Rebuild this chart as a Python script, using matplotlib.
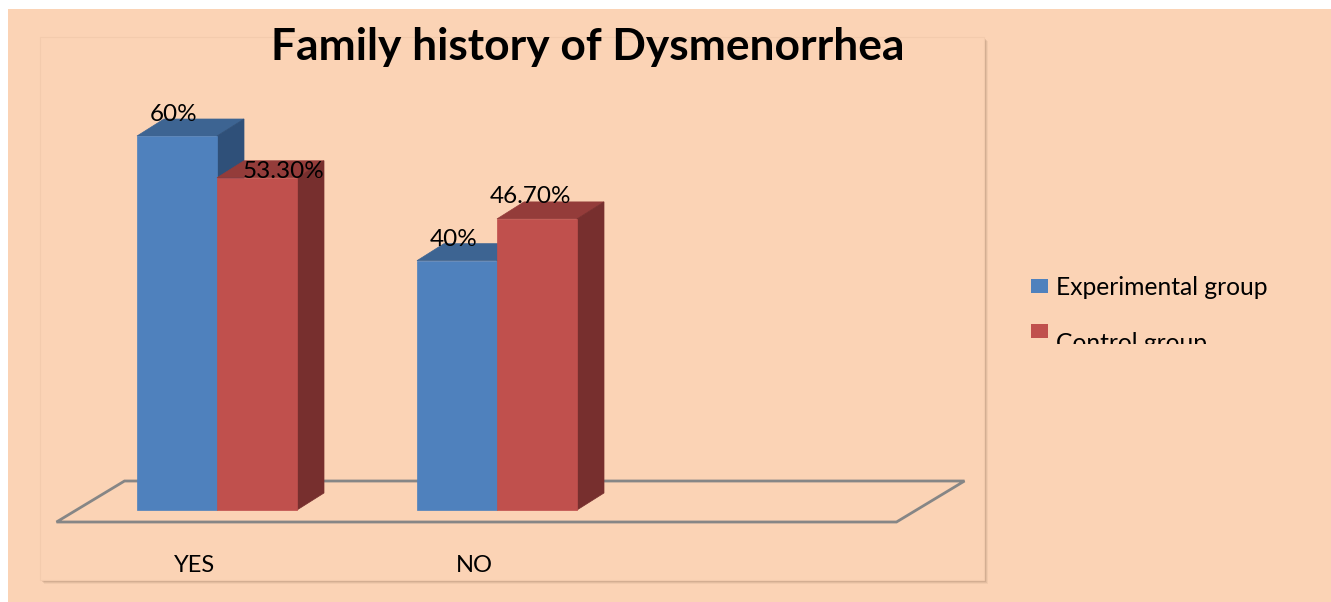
import matplotlib
matplotlib.use('Agg')
import matplotlib.pyplot as plt
from matplotlib.patches import Rectangle, Polygon
from matplotlib.transforms import Bbox

# ---------------- data ----------------
categories = ['YES', 'NO']
experimental = [60.0, 40.0]
control = [53.3, 46.7]
experimental_labels = ['60%', '40%']
control_labels = ['53.30%', '46.70%']
series_names = ['Experimental group', 'Control group']
title_text = 'Family history of Dysmenorrhea'
n_slots = 3          # category slots on the floor (third one empty)

# ---------------- style ----------------
W, H = 1331, 602
BG = '#FBD3B5'
FONT = ['Lato', 'DejaVu Sans']
plt.rcParams['font.family'] = FONT

blue = dict(front='#4F81BD', top='#3D6492', side='#2F5079')
red = dict(front='#C0504D', top='#943C3A', side='#772F2E')


def fx(x):
    return x / W


def fy(y):
    return 1 - y / H


fig = plt.figure(figsize=(W / 100, H / 100), dpi=100)
fig.patch.set_facecolor('white')

# outer peach area
fig.add_artist(Rectangle((fx(8), -0.01), 1.01 - fx(8), fy(9) + 0.01, transform=fig.transFigure,
                         facecolor=BG, edgecolor='none', zorder=0))
# inner panel with shadow
px0, py0, px1, py1 = 40, 37, 984, 580
for i, a in enumerate([0.06, 0.09, 0.12, 0.16]):
    off = 4 - i
    fig.add_artist(Rectangle((fx(px0 + off), fy(py1 + off)), fx(px1 - px0), (py1 - py0) / H,
                             transform=fig.transFigure, facecolor='#5a3e28', alpha=a,
                             edgecolor='none', zorder=0.5))
fig.add_artist(Rectangle((fx(px0), fy(py1)), fx(px1 - px0), (py1 - py0) / H,
                         transform=fig.transFigure, facecolor=BG,
                         edgecolor='#f3cbad', linewidth=0.8, zorder=0.6))

# main axes: bar front plane
px_per_pct = 374 / 60.0
ymax = 70
ax = fig.add_axes([fx(77), fy(510), fx(840), ymax * px_per_pct / H])
ax.set_zorder(2)
ax.set_xlim(0, n_slots)
ax.set_ylim(0, ymax)
ax.axis('off')
ax.patch.set_alpha(0)

px_per_x = 840 / n_slots
# depth offsets (pixels -> data)
bdx, bdy = 27 / px_per_x, 17 / px_per_pct
ffx, ffy = -20.5 / px_per_x, -12 / px_per_pct
fbx, fby = 47.5 / px_per_x, 29 / px_per_pct

# floor
ax.add_patch(Polygon([(ffx, ffy), (n_slots + ffx, ffy), (n_slots + fbx, fby), (fbx, fby)],
                     closed=True, facecolor='none', edgecolor='#868686', linewidth=2,
                     clip_on=False, zorder=1))

bar_w = 1 / 3.5
gap = 1 - 2 * bar_w


def bar3d(x0, h, c):
    ax.add_patch(Polygon([(x0, h), (x0 + bdx, h + bdy), (x0 + bar_w + bdx, h + bdy), (x0 + bar_w, h)],
                         closed=True, facecolor=c['top'], edgecolor=c['top'], linewidth=0.5,
                         clip_on=False, zorder=2))
    ax.add_patch(Polygon([(x0 + bar_w, 0), (x0 + bar_w + bdx, bdy), (x0 + bar_w + bdx, h + bdy), (x0 + bar_w, h)],
                         closed=True, facecolor=c['side'], edgecolor=c['side'], linewidth=0.5,
                         clip_on=False, zorder=2))
    ax.bar(x0, h, width=bar_w, align='edge', color=c['front'], edgecolor=c['front'],
           linewidth=0.5, clip_on=False, zorder=2)


for i, cat in enumerate(categories):
    xb = i + gap / 2
    xr = xb + bar_w
    bar3d(xb, experimental[i], blue)
    bar3d(xr, control[i], red)
    # value labels
    ax.annotate(experimental_labels[i], xy=(xb + bar_w / 2, experimental[i]),
                xytext=(-3, 15), textcoords='offset pixels', ha='center', va='baseline',
                fontsize=17.5, color='black', annotation_clip=False, zorder=5)
    if experimental[i] > control[i]:
        off = (27, 0)
    else:
        off = (-7, 16)
    ax.annotate(control_labels[i], xy=(xr + bar_w / 2, control[i]),
                xytext=off, textcoords='offset pixels', ha='center', va='baseline',
                fontsize=17.5, color='black', annotation_clip=False, zorder=5)
    # category label (centred on the floor front edge)
    ax.annotate(cat, xy=(i + 0.5 + ffx, 0), xytext=(-2, -62), textcoords='offset pixels',
                ha='center', va='baseline', fontsize=17, color='black', annotation_clip=False)

# title
t = fig.text(fx(587.5), fy(60), title_text, ha='center', va='baseline',
             fontsize=36, fontweight='bold', color='black', zorder=3)
fig.canvas.draw()
r = fig.canvas.get_renderer()
wpx = t.get_window_extent(r).width
t.set_fontsize(36 * 631 / wpx)

# legend (cut off at the bottom, as in the reference)
clip = Bbox.from_extents(0, H - 344, W, H)
text_drop = [9, 20]
for j, (name, c) in enumerate(zip(series_names, [blue, red])):
    yc = 286 + j * 45
    fig.add_artist(Rectangle((fx(1031), fy(yc + 7)), fx(17), 14 / H, transform=fig.transFigure,
                             facecolor=c['front'], edgecolor='none', zorder=3))
    tx = fig.text(fx(1056), fy(yc + text_drop[j]), name, ha='left', va='baseline',
                  fontsize=17.7, color='black', zorder=3)
    tx.set_clip_box(clip)
    tx.set_clip_on(True)

fig.savefig('out.png', dpi=100, facecolor=fig.get_facecolor())
